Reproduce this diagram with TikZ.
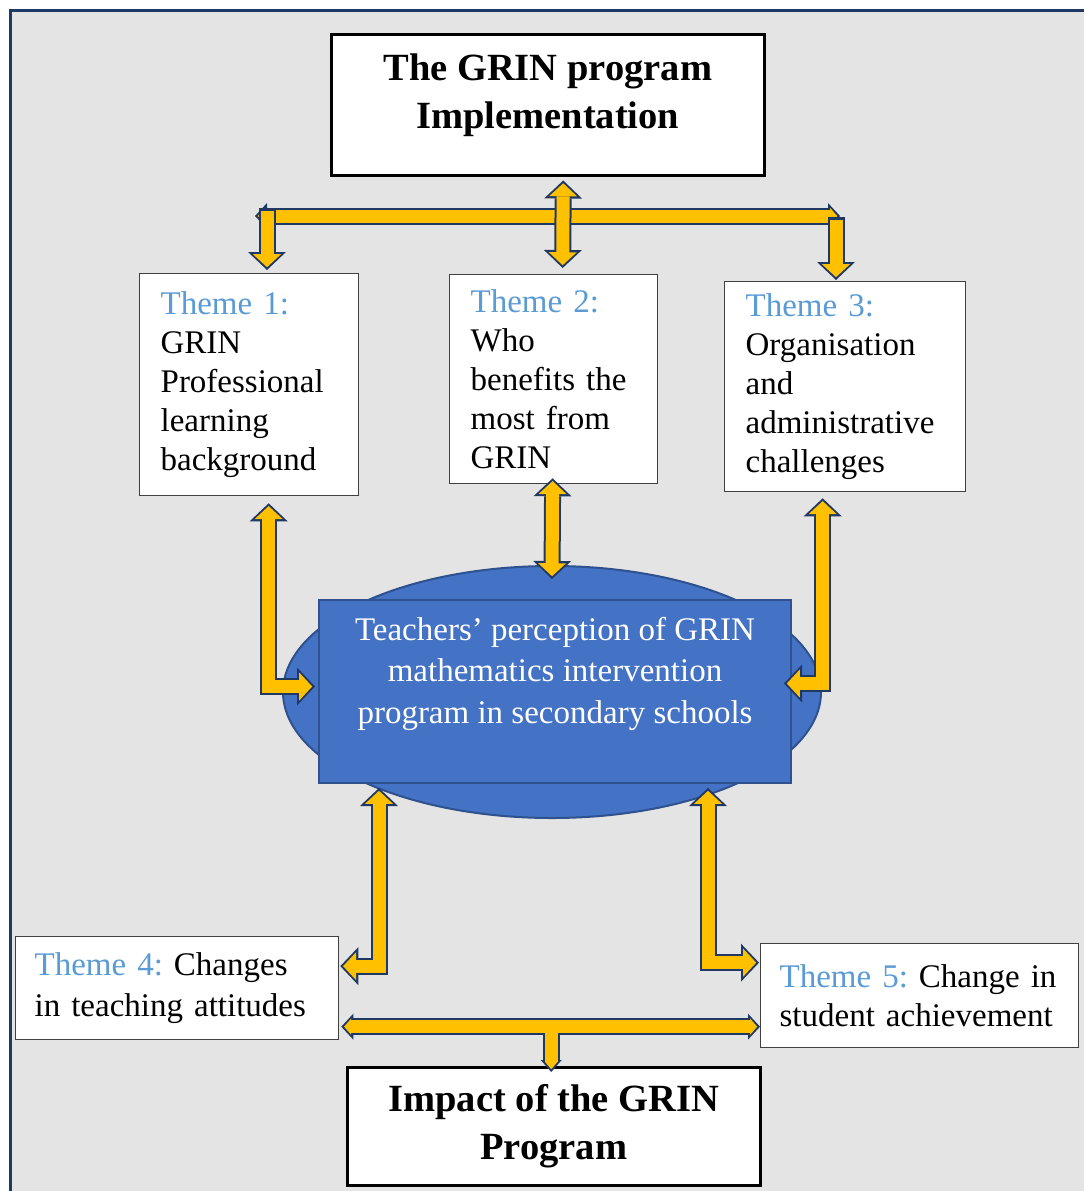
\documentclass[tikz,border=0pt]{standalone}
\usepackage{fontspec}
\setmainfont{Liberation Serif}
\frenchspacing
\usepackage{tikz}
\usetikzlibrary{calc, arrows.meta, shapes.geometric}
\definecolor{panel}{HTML}{E4E4E4}
\definecolor{frame}{HTML}{1F3864}
\definecolor{gold}{HTML}{FFC000}
\definecolor{arrowline}{HTML}{203864}
\definecolor{themeblue}{HTML}{5B9BD5}
\definecolor{centrefill}{HTML}{4472C4}
\definecolor{centreline}{HTML}{2F528F}
\tikzstyle{headbox} = [rectangle, draw=black, line width=2.5pt, fill=white, align=center, font=\fontsize{38.5}{48}\selectfont\bfseries]
\tikzstyle{headtext} = [align=center, font=\fontsize{38.5}{48}\selectfont\bfseries]
\tikzstyle{theme} = [rectangle, draw=black!75, line width=1.3pt, fill=white, align=left, inner xsep=21pt, inner ysep=0pt]
\tikzstyle{arrowedge} = [draw=arrowline, line width=17pt, line join=miter]
\tikzstyle{arrowcore} = [draw=gold, line width=13pt, line join=miter, shorten <=2.8pt, shorten >=2.8pt]
\tikzset{
    bigedge/.tip={Triangle[width=38pt, length=18pt, line width=0pt]},
    bigcore/.tip={Triangle[width=28pt, length=13pt, line width=0pt]},
    smalledge/.tip={Triangle[width=26pt, length=12pt, line width=0pt]},
    smallcore/.tip={Triangle[width=16pt, length=7pt, line width=0pt]},
    stemedge/.tip={Triangle[width=21pt, length=12pt, line width=0pt]},
    stemcore/.tip={Triangle[width=12pt, length=7pt, line width=0pt]},
}

\begin{document}
\begin{tikzpicture}[x=1pt, y=-1pt, font=\fontsize{33}{39}\selectfont]

        % page and frame
        \useasboundingbox (0,0) rectangle (1084,1191);
        \fill[white] (0,0) rectangle (1084,1191);
        \fill[panel] (10,10) rectangle (1084,1191);
        \draw[frame, line width=3pt] (10,1191) -- (10,10) -- (1084,10);

        % boxes
        \node (top) [headbox, anchor=north west, minimum width=433pt, minimum height=141pt] at (330,33) {};
        \node (toptext) [headtext] at ($(top.center)+(0,-10)$) {The GRIN program\\Implementation};

        \node (t1) [theme, anchor=north west, text width=177pt, minimum height=222pt] at (139,273) {\textcolor{themeblue}{Theme 1:}\\GRIN\\Professional\\learning\\background};
        \node (t2) [theme, anchor=north west, text width=166pt, minimum height=209pt] at (449,274) {\textcolor{themeblue}{Theme 2:}\\Who\\benefits the\\most from\\GRIN};
        \node (t3) [theme, anchor=north west, text width=199pt, minimum height=210pt] at (724,281) {\textcolor{themeblue}{Theme 3:}\\Organisation\\and\\administrative\\challenges};

        \node (ell) [ellipse, draw=centreline, line width=2pt, fill=centrefill, minimum width=538pt, minimum height=252pt] at (552,692) {};
        \node (c) [rectangle, draw=centreline, line width=2pt, fill=centrefill, anchor=north west, minimum width=472pt, minimum height=183pt] at (318,599) {};
        \node (ctext) [text=white, align=center, font=\fontsize{33}{41.5}\selectfont] at ($(c.center)+(0,-18)$) {Teachers’ perception of GRIN\\mathematics intervention\\program in secondary schools};

        \node (t4) [theme, anchor=north west, inner xsep=19pt, text width=285pt, minimum height=103pt, font=\fontsize{33}{41}\selectfont] at (15,936) {\textcolor{themeblue}{Theme 4:} Changes\\in teaching attitudes};
        \node (t5) [theme, anchor=north west, inner xsep=19pt, text width=280pt, minimum height=104pt] at (760,943) {\textcolor{themeblue}{Theme 5:} Change in\\student achievement};

        \node (bot) [headbox, anchor=north west, minimum width=413pt, minimum height=118pt] at (346,1066) {Impact of the GRIN\\Program};

        % arrow end points
        \coordinate (barL) at (255,216);
        \coordinate (barR) at (840,216);
        \coordinate (dropL) at (267,208);
        \coordinate (dropR) at (836,217);
        \coordinate (t1top) at ($(dropL |- t1.north)+(0,-3)$);
        \coordinate (t3top) at ($(dropR |- t3.north)+(0,-1)$);
        \coordinate (topout) at ($(top.south)+(15.5,4)$);
        \coordinate (t2top) at ($(t2.north)+(9,-6)$);
        \coordinate (t1out) at ($(t1.south)+(19.5,7)$);
        \coordinate (cW) at ($(c.west)+(-3,-5)$);
        \coordinate (t2out) at ($(t2.south)+(-1,-6)$);
        \coordinate (ellN) at ($(ell.north)+(0,14)$);
        \coordinate (t3out) at ($(t3.south)+(-22.5,6)$);
        \coordinate (cE) at ($(c.east)+(-8,-8)$);
        \coordinate (cSL) at ($(c.south)+(-176,4)$);
        \coordinate (t4in) at ($(t4.east)+(1,-22)$);
        \coordinate (cSR) at ($(c.south)+(153,4)$);
        \coordinate (t5in) at ($(t5.west)+(-1,-33)$);
        \coordinate (t4bar) at ($(t4.east)+(2,38.5)$);
        \coordinate (t5bar) at ($(t5.west)+(0,31)$);
        \coordinate (botin) at ($(bot.north)+(-2.5,6)$);
        \coordinate (stem) at (botin |- t4bar);

        % top arrows
        \draw[arrowedge, {smalledge}-{smalledge}] (barL) -- (barR);
        \draw[arrowcore, {smallcore}-{smallcore}] (barL) -- (barR);
        \draw[arrowedge, -{bigedge}] (dropL) -- (t1top);
        \draw[arrowcore, -{bigcore}] (dropL) -- (t1top);
        \draw[arrowedge, -{bigedge}] (dropR) -- (t3top);
        \draw[arrowcore, -{bigcore}] (dropR) -- (t3top);
        \draw[arrowedge, {bigedge}-{bigedge}] (topout) -- (t2top);
        \draw[arrowcore, {bigcore}-{bigcore}] (topout) -- (t2top);

        % themes to the centre
        \draw[arrowedge, {bigedge}-{bigedge}] (t1out) |- (cW);
        \draw[arrowcore, {bigcore}-{bigcore}] (t1out) |- (cW);
        \draw[arrowedge, {bigedge}-{bigedge}] (t2out) -- (ellN);
        \draw[arrowcore, {bigcore}-{bigcore}] (t2out) -- (ellN);
        \draw[arrowedge, {bigedge}-{bigedge}] (t3out) |- (cE);
        \draw[arrowcore, {bigcore}-{bigcore}] (t3out) |- (cE);
        \draw[arrowedge, {bigedge}-{bigedge}] (cSL) |- (t4in);
        \draw[arrowcore, {bigcore}-{bigcore}] (cSL) |- (t4in);
        \draw[arrowedge, {bigedge}-{bigedge}] (cSR) |- (t5in);
        \draw[arrowcore, {bigcore}-{bigcore}] (cSR) |- (t5in);

        % bottom bar and stem
        \draw[arrowedge, {smalledge}-{smalledge}] (t4bar) -- (t5bar);
        \draw[arrowedge, -{stemedge}] (stem) -- (botin);
        \draw[arrowcore, {smallcore}-{smallcore}] (t4bar) -- (t5bar);
        \draw[arrowcore, -{stemcore}] (stem) -- (botin);

    \end{tikzpicture}
\end{document}
